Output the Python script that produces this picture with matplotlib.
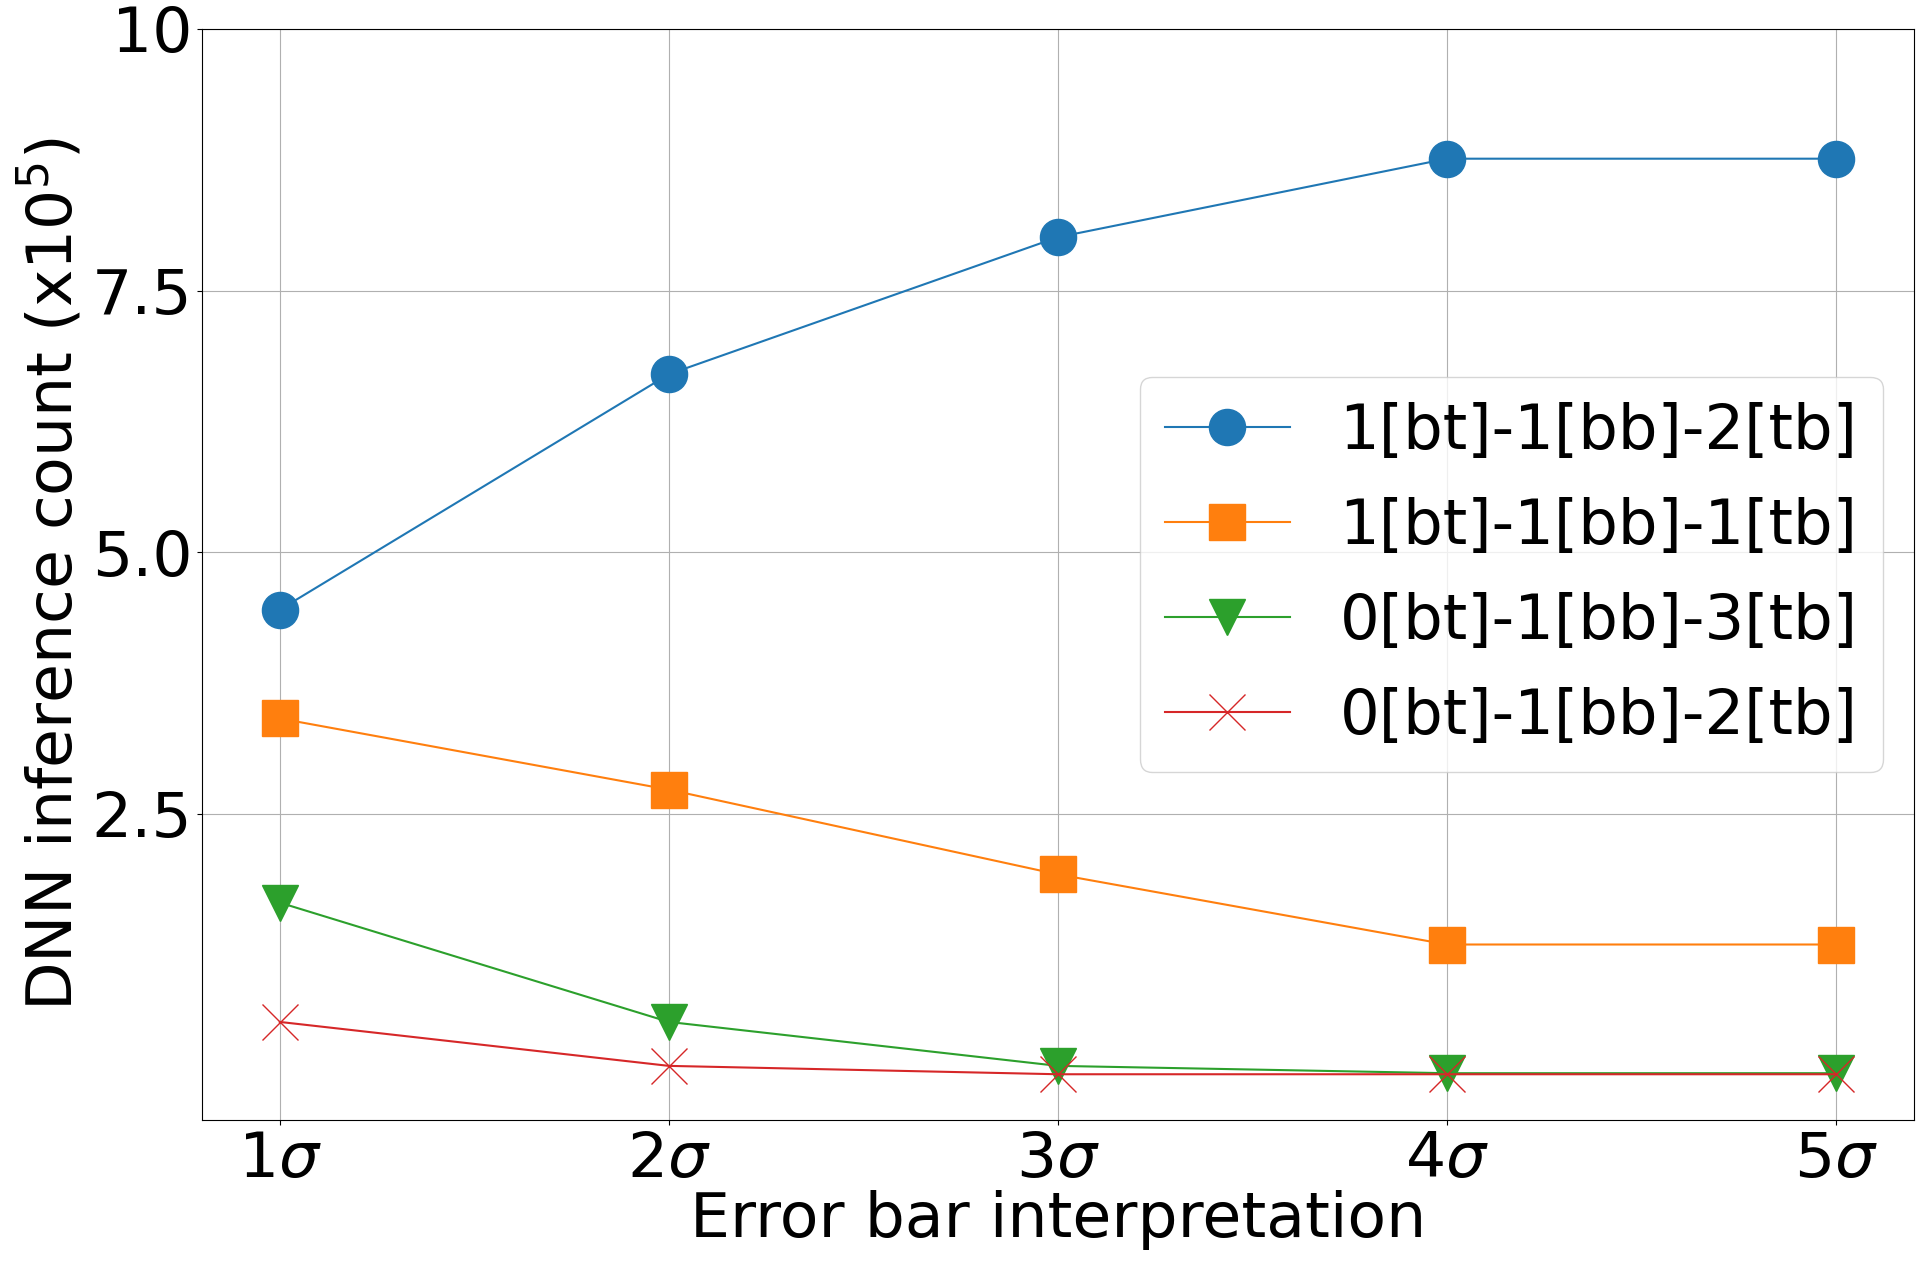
import numpy as np
import matplotlib
matplotlib.use("Agg")
import matplotlib.pyplot as plt

# error bar interpretation (k sigma) and DNN inference counts in units of 1e5
sigmas = [1, 2, 3, 4, 5]
xlabels = ["1$\\sigma$", "2$\\sigma$", "3$\\sigma$", "4$\\sigma$", "5$\\sigma$"]

cfg_names = ["1[bt]-1[bb]-2[tb]", "1[bt]-1[bb]-1[tb]",
             "0[bt]-1[bb]-3[tb]", "0[bt]-1[bb]-2[tb]"]
cnt_112 = [4.45, 6.70, 8.01, 8.76, 8.76]
cnt_111 = [3.41, 2.73, 1.92, 1.25, 1.25]
cnt_013 = [1.65, 0.51, 0.09, 0.02, 0.02]
cnt_012 = [0.51, 0.09, 0.01, 0.01, 0.01]
markers = ["o", "s", "v", "x"]

fs = 45.5
fig = plt.figure(figsize=(19.22, 12.64), dpi=100)
ax = fig.add_axes([0.1051, 0.1139, 0.8907, 0.8632])

for vals, name, mk in zip([cnt_112, cnt_111, cnt_013, cnt_012], cfg_names, markers):
    ax.plot(sigmas, vals, marker=mk, markersize=26, label=name)

ax.set_ylim(top=10)
ax.set_yticks([2.5, 5.0, 7.5, 10])
ax.set_yticklabels(["2.5", "5.0", "7.5", "10"])
ax.set_xticks(sigmas)
ax.set_xticklabels(xlabels)
ax.tick_params(labelsize=fs)
ax.grid(True)

ax.set_xlabel("Error bar interpretation", fontsize=fs, labelpad=0)
ax.set_ylabel("DNN inference count (x$10^5$)", fontsize=fs)
ax.legend(loc="center right", fontsize=45, labelspacing=0.56)

fig.savefig("out.png", dpi=100)
